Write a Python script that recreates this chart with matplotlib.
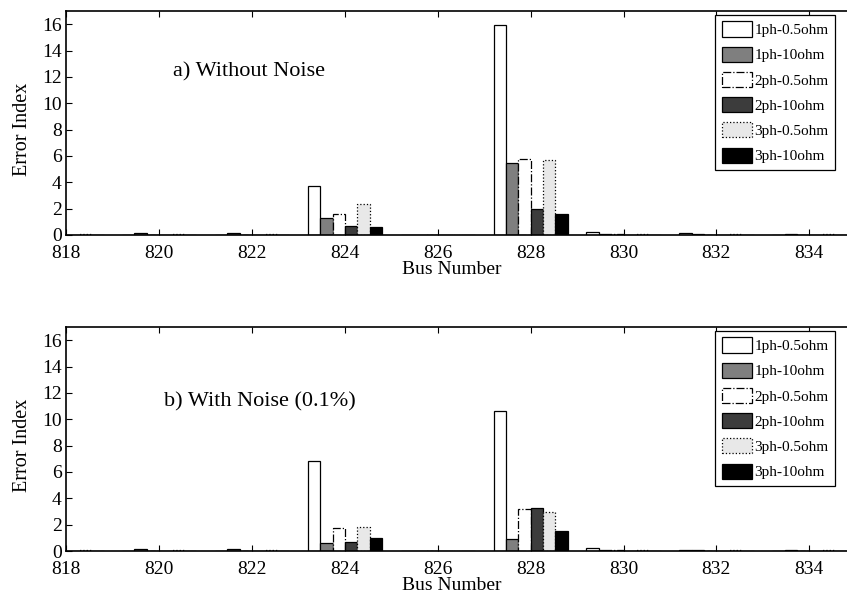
import matplotlib
matplotlib.use("Agg")
import matplotlib.pyplot as plt
import numpy as np
from matplotlib.patches import Patch

plt.rcParams['font.family'] = ['Liberation Serif', 'DejaVu Serif']

buses = [818, 820, 822, 824, 826, 828, 830, 832, 834]
series_labels = ['1ph-0.5ohm', '1ph-10ohm', '2ph-0.5ohm', '2ph-10ohm', '3ph-0.5ohm', '3ph-10ohm']

# a) Without Noise
a_1ph_05 = [0.0, 0.0, 0.0, 3.72, 0.0, 15.9, 0.20, 0.12, 0.03]
a_1ph_10 = [0.0, 0.15, 0.15, 1.32, 0.0, 5.44, 0.04, 0.06, 0.06]
a_2ph_05 = [0.0, 0.02, 0.02, 1.62, 0.0, 5.77, 0.05, 0.03, 0.03]
a_2ph_10 = [0.02, 0.02, 0.02, 0.68, 0.0, 1.97, 0.03, 0.03, 0.03]
a_3ph_05 = [0.04, 0.04, 0.04, 2.35, 0.0, 5.67, 0.10, 0.05, 0.05]
a_3ph_10 = [0.02, 0.02, 0.02, 0.63, 0.0, 1.57, 0.03, 0.03, 0.03]

# b) With Noise (0.1%)
b_1ph_05 = [0.0, 0.0, 0.0, 6.80, 0.0, 10.6, 0.22, 0.10, 0.03]
b_1ph_10 = [0.0, 0.12, 0.12, 0.58, 0.0, 0.88, 0.05, 0.06, 0.05]
b_2ph_05 = [0.0, 0.02, 0.02, 1.72, 0.0, 3.20, 0.05, 0.03, 0.03]
b_2ph_10 = [0.02, 0.02, 0.02, 0.71, 0.0, 3.28, 0.03, 0.03, 0.03]
b_3ph_05 = [0.04, 0.04, 0.04, 1.79, 0.0, 2.95, 0.08, 0.05, 0.05]
b_3ph_10 = [0.02, 0.02, 0.02, 0.96, 0.0, 1.49, 0.03, 0.03, 0.03]

styles = [
    dict(facecolor='white', edgecolor='black', linestyle='-'),
    dict(facecolor='#7f7f7f', edgecolor='black', linestyle='-'),
    dict(facecolor='white', edgecolor='black', linestyle='-.'),
    dict(facecolor='#3c3c3c', edgecolor='black', linestyle='-'),
    dict(facecolor='#e8e8e8', edgecolor='black', linestyle=':'),
    dict(facecolor='black', edgecolor='black', linestyle='-'),
]

W, H = 847, 594
fig = plt.figure(figsize=(W / 100, H / 100), dpi=100)

px_per_unit = 46.43
left_px = 66.4
xmin, xmax = 818, 835
ax_w = (xmax - xmin) * px_per_unit

def make_axes(top_px, bottom_px, data, title, title_xy, legend_top_px):
    ax = fig.add_axes([left_px / W, 1 - bottom_px / H, ax_w / W, (bottom_px - top_px) / H])
    n = len(data)
    gw = 1.6
    bw = gw / n
    x = np.array(buses, dtype=float)
    for i, (vals, st) in enumerate(zip(data, styles)):
        ax.bar(x + (i - (n - 1) / 2) * bw, vals, width=bw, linewidth=0.9, **st)
    ax.set_xlim(xmin, xmax)
    ax.set_ylim(0, 17)
    ax.set_xticks(np.arange(818, 835, 2))
    ax.set_yticks(np.arange(0, 17, 2))
    ax.tick_params(direction='in', length=4, width=0.8, top=True, right=True,
                   labelsize=14)
    ax.tick_params(axis='x', pad=7)
    ax.tick_params(axis='y', pad=3.5)
    for lab in ax.get_yticklabels():
        lab.set_va('center_baseline')
    for s in ax.spines.values():
        s.set_linewidth(1.2)
    ax.set_xlabel('Bus Number', fontsize=14)
    ax.set_ylabel('Error Index', fontsize=14.5)
    ax.xaxis.set_label_coords((452 - left_px) / ax_w, -0.115)
    ax.yaxis.set_label_coords((22 - left_px) / ax_w, 0.47)
    ax.xaxis.label.set_va('top')
    ax.yaxis.label.set_va('center')
    ax.text(title_xy[0], title_xy[1], title, fontsize=16, va='center', ha='left')
    handles = [Patch(linewidth=0.9, **st) for st in styles]
    leg = ax.legend(handles, series_labels, loc='upper right',
                    bbox_to_anchor=(835 / W, 1 - legend_top_px / H),
                    bbox_transform=fig.transFigure, borderaxespad=0,
                    fontsize=11, handlelength=2.0, handleheight=1.15,
                    labelspacing=0.62, handletextpad=0.15, borderpad=0.42,
                    fancybox=False, framealpha=1, edgecolor='black')
    leg.get_frame().set_linewidth(0.9)
    return ax

make_axes(11, 235, [a_1ph_05, a_1ph_10, a_2ph_05, a_2ph_10, a_3ph_05, a_3ph_10],
          'a) Without Noise', (820.3, 12.4), 15)
make_axes(327, 551, [b_1ph_05, b_1ph_10, b_2ph_05, b_2ph_10, b_3ph_05, b_3ph_10],
          'b) With Noise (0.1%)', (820.1, 11.3), 331)

fig.savefig('out.png', dpi=100)
